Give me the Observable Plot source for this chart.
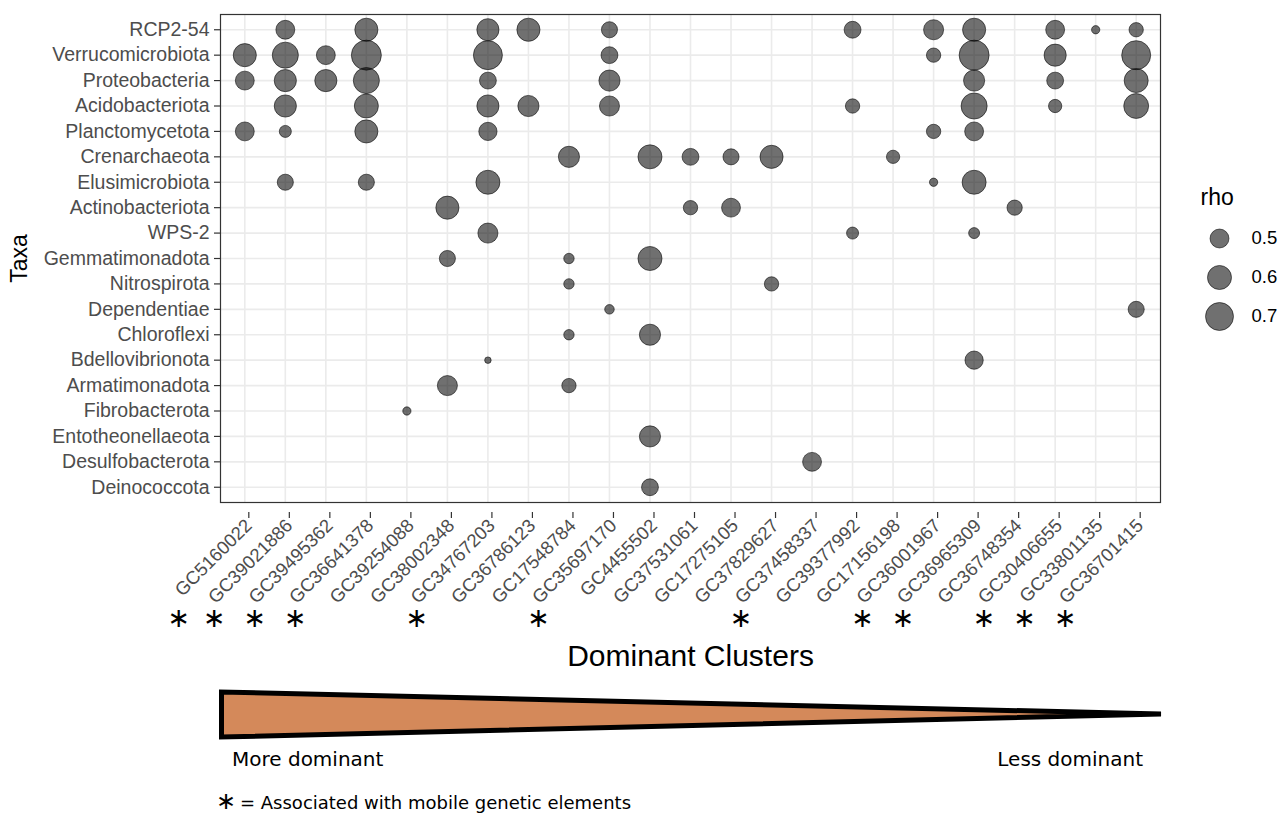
<!DOCTYPE html>
<html>
<head>
<meta charset="utf-8">
<script src="https://cdn.jsdelivr.net/npm/d3@7"></script>
<script src="https://cdn.jsdelivr.net/npm/@observablehq/plot@0.6"></script>
<style>
  html, body { margin: 0; padding: 0; background: #ffffff; }
  #wrap { position: relative; width: 1283px; height: 815px; overflow: hidden; background: #fff; }
  #main, #legend, #below { position: absolute; }
  #main { left: 0; top: 0; }
  #legend { left: 1170px; top: 180px; }
  #below { left: 0; top: 680px; }
</style>
</head>
<body>
<div id="wrap">
  <div id="main"></div>
  <div id="legend"></div>
  <svg id="below" width="1283" height="135" xmlns="http://www.w3.org/2000/svg">
    <polygon points="221.5,12 221.5,57 1161,34" fill="#D4895A" stroke="#000" stroke-width="5" stroke-linejoin="miter" stroke-miterlimit="4"/>
    <text x="232" y="86" font-family="DejaVu Sans" font-size="20" fill="#000">More dominant</text>
    <text x="1143" y="86" font-family="DejaVu Sans" font-size="20" fill="#000" text-anchor="end">Less dominant</text>
    <text x="216" y="128.5" font-family="DejaVu Sans" font-size="24" fill="#000">∗</text>
    <text x="240" y="128.5" font-family="DejaVu Sans" font-size="18" fill="#000">= Associated with mobile genetic elements</text>
  </svg>
</div>
<script>
// ---- data ----
const clusters = ["GC5160022","GC39021886","GC39495362","GC36641378","GC39254088","GC38002348","GC34767203","GC36786123","GC17548784","GC35697170","GC4455502","GC37531061","GC17275105","GC37829627","GC37458337","GC39377992","GC17156198","GC36001967","GC36965309","GC36748354","GC30406655","GC33801135","GC36701415"];

const taxa = ["RCP2-54","Verrucomicrobiota","Proteobacteria","Acidobacteriota","Planctomycetota","Crenarchaeota","Elusimicrobiota","Actinobacteriota","WPS-2","Gemmatimonadota","Nitrospirota","Dependentiae","Chloroflexi","Bdellovibrionota","Armatimonadota","Fibrobacterota","Entotheonellaeota","Desulfobacterota","Deinococcota"];

// clusters associated with mobile genetic elements (marked with an asterisk)
const mgeClusters = ["GC5160022","GC39021886","GC39495362","GC36641378","GC34767203","GC35697170","GC37458337","GC36001967","GC36965309","GC30406655","GC33801135","GC36701415"];

const dotTaxon = [
  "RCP2-54","RCP2-54","RCP2-54","RCP2-54","RCP2-54","RCP2-54","RCP2-54","RCP2-54","RCP2-54","RCP2-54","RCP2-54",
  "Verrucomicrobiota","Verrucomicrobiota","Verrucomicrobiota","Verrucomicrobiota","Verrucomicrobiota","Verrucomicrobiota","Verrucomicrobiota","Verrucomicrobiota","Verrucomicrobiota","Verrucomicrobiota",
  "Proteobacteria","Proteobacteria","Proteobacteria","Proteobacteria","Proteobacteria","Proteobacteria","Proteobacteria","Proteobacteria","Proteobacteria",
  "Acidobacteriota","Acidobacteriota","Acidobacteriota","Acidobacteriota","Acidobacteriota","Acidobacteriota","Acidobacteriota","Acidobacteriota","Acidobacteriota",
  "Planctomycetota","Planctomycetota","Planctomycetota","Planctomycetota","Planctomycetota","Planctomycetota",
  "Crenarchaeota","Crenarchaeota","Crenarchaeota","Crenarchaeota","Crenarchaeota","Crenarchaeota",
  "Elusimicrobiota","Elusimicrobiota","Elusimicrobiota","Elusimicrobiota","Elusimicrobiota",
  "Actinobacteriota","Actinobacteriota","Actinobacteriota","Actinobacteriota",
  "WPS-2","WPS-2","WPS-2",
  "Gemmatimonadota","Gemmatimonadota","Gemmatimonadota",
  "Nitrospirota","Nitrospirota",
  "Dependentiae","Dependentiae",
  "Chloroflexi","Chloroflexi",
  "Bdellovibrionota","Bdellovibrionota",
  "Armatimonadota","Armatimonadota",
  "Fibrobacterota",
  "Entotheonellaeota",
  "Desulfobacterota",
  "Deinococcota"
];

const dotCluster = [
  "GC39021886","GC36641378","GC34767203","GC36786123","GC35697170","GC39377992","GC36001967","GC36965309","GC30406655","GC33801135","GC36701415",
  "GC5160022","GC39021886","GC39495362","GC36641378","GC34767203","GC35697170","GC36001967","GC36965309","GC30406655","GC36701415",
  "GC5160022","GC39021886","GC39495362","GC36641378","GC34767203","GC35697170","GC36965309","GC30406655","GC36701415",
  "GC39021886","GC36641378","GC34767203","GC36786123","GC35697170","GC39377992","GC36965309","GC30406655","GC36701415",
  "GC5160022","GC39021886","GC36641378","GC34767203","GC36001967","GC36965309",
  "GC17548784","GC4455502","GC37531061","GC17275105","GC37829627","GC17156198",
  "GC39021886","GC36641378","GC34767203","GC36001967","GC36965309",
  "GC38002348","GC37531061","GC17275105","GC36748354",
  "GC34767203","GC39377992","GC36965309",
  "GC38002348","GC17548784","GC4455502",
  "GC17548784","GC37829627",
  "GC35697170","GC36701415",
  "GC17548784","GC4455502",
  "GC34767203","GC36965309",
  "GC38002348","GC17548784",
  "GC39254088",
  "GC4455502",
  "GC37458337",
  "GC4455502"
];

const dotRho = [
  0.50,0.58,0.56,0.58,0.46,0.47,0.52,0.58,0.50,0.402,0.44,
  0.58,0.65,0.50,0.76,0.73,0.47,0.44,0.76,0.56,0.73,
  0.50,0.56,0.56,0.65,0.47,0.54,0.54,0.47,0.60,
  0.56,0.60,0.56,0.54,0.52,0.44,0.65,0.43,0.62,
  0.50,0.42,0.58,0.49,0.44,0.50,
  0.54,0.60,0.47,0.46,0.58,0.43,
  0.46,0.46,0.60,0.402,0.60,
  0.58,0.44,0.50,0.45,
  0.52,0.42,0.413,
  0.46,0.41,0.60,
  0.41,0.44,
  0.406,0.46,
  0.41,0.54,
  0.40,0.49,
  0.52,0.44,
  0.402,
  0.54,
  0.50,
  0.47
];

const legendBreaks = [0.5, 0.6, 0.7];
const rhoFloor = 0.40;   // smallest rho (size scale minimum)
const rhoCeil = 0.76;    // largest rho (size scale maximum)

// ---- build ----
const dots = dotRho.map((rho, i) => ({taxon: dotTaxon[i], cluster: dotCluster[i], rho}));

const rScale = {type: "sqrt", domain: [0, rhoCeil - rhoFloor], range: [3.25, 15]};
const dotStyle = {fill: "#000", fillOpacity: 0.56, stroke: "#000", strokeOpacity: 0.56, strokeWidth: 1};
const sansFont = "'Liberation Sans', Arial, Helvetica, sans-serif";
const starStyle = {text: () => "∗", frameAnchor: "bottom", dy: 124, fontSize: 27, fontFamily: "DejaVu Sans", fill: "#000"};

const main = Plot.plot({
  width: 1283,
  height: 680,
  marginLeft: 220,
  marginRight: 123,
  marginTop: 14,
  marginBottom: 178,
  style: {fontFamily: sansFont, background: "transparent", overflow: "visible"},
  x: {type: "point", domain: clusters, padding: 0.6, round: false, axis: null},
  y: {type: "point", domain: taxa, padding: 0.6, round: false, axis: null},
  r: rScale,
  marks: [
    Plot.gridX({stroke: "#EBEBEB", strokeOpacity: 1, strokeWidth: 1.6}),
    Plot.gridY({stroke: "#EBEBEB", strokeOpacity: 1, strokeWidth: 1.6}),
    Plot.dot(dots, {x: "cluster", y: "taxon", r: d => d.rho - rhoFloor, ...dotStyle}),
    Plot.frame({stroke: "#333333", strokeWidth: 1.2}),
    Plot.axisY({tickSize: 6, tickPadding: 5, fontSize: 19.5, stroke: "#333333", fill: "#4D4D4D", strokeWidth: 1.2, label: null}),
    Plot.axisX({tickSize: 6, tickPadding: 4, tickRotate: -45, textAnchor: "end", dx: 4, dy: 10, fontSize: 18.5, stroke: "#333333", fill: "#4D4D4D", strokeWidth: 1.2, label: null}),
    Plot.text(mgeClusters.filter(d => d.length < 10), {x: d => d, dx: -66, ...starStyle}),
    Plot.text(mgeClusters.filter(d => d.length >= 10), {x: d => d, dx: -71, ...starStyle}),
    Plot.text(["Dominant Clusters"], {frameAnchor: "bottom", dy: 163, fontSize: 30, fill: "#000"}),
    Plot.text(["Taxa"], {frameAnchor: "left", dx: -201, rotate: -90, textAnchor: "middle", fontSize: 23, fill: "#000"})
  ]
});
document.getElementById("main").appendChild(main);

const legend = Plot.plot({
  width: 113,
  height: 160,
  margin: 0,
  style: {fontFamily: sansFont, background: "transparent", overflow: "visible"},
  x: {axis: null},
  y: {type: "point", domain: legendBreaks, range: [58, 136], padding: 0, round: false, axis: null},
  r: rScale,
  marks: [
    Plot.text(["rho"], {frameAnchor: "top-left", dx: 30, dy: 17, lineAnchor: "middle", textAnchor: "start", fontSize: 23, fill: "#000"}),
    Plot.dot(legendBreaks, {y: d => d, r: d => d - rhoFloor, frameAnchor: "left", dx: 49, ...dotStyle}),
    Plot.text(legendBreaks, {y: d => d, text: d => d.toFixed(1), frameAnchor: "left", dx: 81, textAnchor: "start", fontSize: 18.5, fill: "#000"})
  ]
});
document.getElementById("legend").appendChild(legend);
</script>
</body>
</html>
